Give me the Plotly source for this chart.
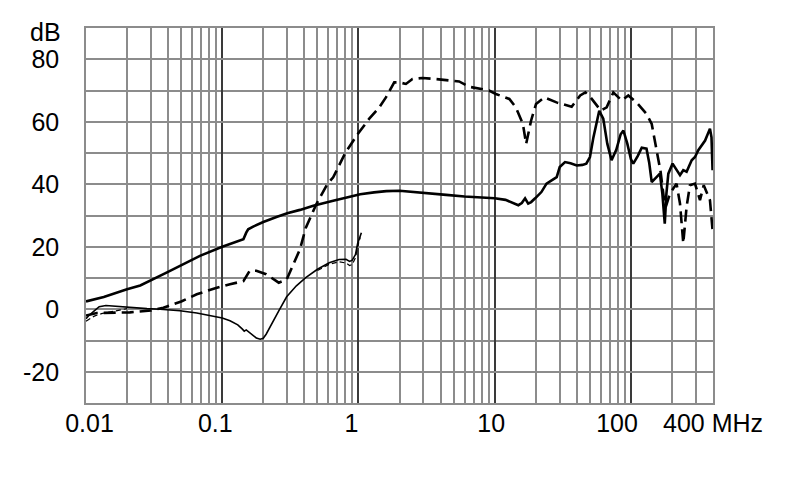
import plotly.graph_objects as go

# ---- data ----
s1_f = [0.01, 0.0135, 0.02, 0.025, 0.039, 0.049, 0.0686, 0.1, 0.12, 0.135, 0.143, 0.15, 0.155, 0.17,
        0.2, 0.25, 0.3, 0.372, 0.466, 0.652, 0.8, 1.03, 1.3, 1.6, 2.0, 2.5, 3.2, 4.4, 6, 7.8, 10, 12,
        13.7, 14.9, 15.8, 16.7, 17.6, 18.5, 19.8, 22, 24, 26.5, 28.5, 30, 32.8, 36, 40, 44, 47, 50,
        53, 58.5, 62.6, 67, 72, 78, 84, 88, 94, 100, 104, 112, 120, 130, 136, 142, 152, 163, 170,
        177, 182, 188, 202, 216, 229, 242, 256, 279, 295, 312, 330, 350, 380, 390, 397]
s1_db = [2.5, 3.9, 6.4, 7.6, 11.7, 13.9, 17.1, 20.0, 21.3, 22.0, 22.4, 24.5, 25.6, 26.5,
         27.9, 29.5, 30.7, 31.8, 33.1, 34.7, 35.7, 36.8, 37.4, 37.8, 37.9, 37.6, 37.2, 36.6, 36.1, 35.8, 35.5, 35.0,
         34.0, 33.3, 34.0, 35.5, 33.8, 34.3, 35.5, 37.5, 40.2, 41.5, 42.3, 45.5, 47.1, 46.7, 46.0, 46.2, 46.6, 48.7,
         55.0, 63.5, 61.0, 53.0, 47.7, 51.0, 56.0, 57.2, 53.0, 48.0, 46.6, 49.0, 51.7, 51.4, 47.0, 40.7, 42.0, 43.4, 37.0,
         27.4, 37.0, 43.4, 46.6, 44.5, 42.9, 44.5, 44.0, 47.7, 48.7, 50.9, 52.4, 54.0, 57.8, 55.0, 44.5]

s2_f = [0.01, 0.0105, 0.0115, 0.0125, 0.014, 0.016, 0.02, 0.028, 0.035, 0.049, 0.065, 0.086, 0.1, 0.114,
        0.13, 0.14, 0.145, 0.15, 0.16, 0.17, 0.178, 0.19, 0.2, 0.21, 0.236, 0.26, 0.297, 0.35, 0.41, 0.5,
        0.61, 0.72, 0.81, 0.86, 0.9, 0.95, 0.985, 1.05]
s2_db = [-3.0, -2.0, -0.5, 0.8, 1.2, 1.0, 0.6, 0.2, 0.0, -0.5, -1.2, -2.1, -2.8, -3.7,
         -5.0, -6.3, -7.0, -6.6, -7.6, -8.5, -9.2, -9.6, -9.3, -8.0, -3.7, -0.5, 4.0, 7.5, 10.1, 12.8,
         14.9, 15.9, 16.0, 15.3, 15.7, 17.5, 21.0, 24.5]

s3_f = [0.01, 0.012, 0.021, 0.03, 0.037, 0.05, 0.065, 0.09, 0.114, 0.143, 0.159, 0.178, 0.21, 0.26, 0.297,
        0.33, 0.372, 0.41, 0.49, 0.59, 0.652, 0.8, 0.985, 1.2, 1.42, 1.59, 1.83, 1.99, 2.23, 2.49, 2.95,
        3.6, 4.38, 5.48, 6.48, 7.67, 9.08, 10.2, 12.8, 14.3, 16.1, 17, 18.5, 20.1, 23.2, 28.4, 36.7, 42.4,
        46.3, 50.5, 60, 66.3, 74.2, 85.5, 95.6, 110, 130, 142, 155, 165, 175, 180, 190, 200, 216, 229, 242,
        256, 271, 295, 321, 342, 363, 380, 397]
s3_db = [-2.0, -1.2, -1.0, -0.4, 0.5, 2.5, 4.8, 6.8, 8.0, 9.0, 12.3, 12.3, 11.2, 8.5, 9.5,
         14.0, 19.2, 26.0, 33.6, 40.0, 42.2, 50.0, 56.0, 61.0, 64.6, 67.8, 72.6, 72.6, 72.1, 73.7, 74.0,
         73.7, 73.3, 72.9, 71.2, 70.7, 70.0, 68.9, 67.3, 64.6, 59.3, 52.9, 60.4, 65.7, 67.8, 66.2, 64.8, 68.4,
         69.4, 67.8, 63.6, 64.6, 69.4, 66.8, 68.4, 66.2, 62.5, 59.3, 50.0, 44.0, 35.0, 32.8, 36.0, 38.0, 40.2, 33.8, 21.1,
         32.8, 39.7, 40.2, 34.9, 39.7, 37.0, 34.9, 25.3]

# thin dashed companion of the thin solid curve (two short visible pieces)
s4_f = [0.01, 0.0115, 0.013, 0.016, 0.02, None, 0.5, 0.61, 0.72, 0.81, 0.86, 0.9, 0.95, 0.985, 1.03]
s4_db = [-3.8, -2.2, -1.4, -0.6, 0.2, None, 12.4, 14.4, 15.2, 14.8, 14.0, 14.3, 16.5, 20.0, 23.0]

x_tick_vals = [0.01, 0.1, 1, 10, 100, 400]
x_tick_text = ["\u00a00.01", "0.1\u00a0\u00a0", "1\u00a0\u00a0", "10\u00a0", "100\u00a0\u00a0\u00a0\u00a0", "400 MHz"]
decades = [0.1, 1, 10, 100]
minor_vals = [m * d for d in [0.01, 0.1, 1, 10] for m in range(2, 10)] + [200, 300]
y_tick_vals = [-20, 0, 20, 40, 60, 80]
y_tick_text = ["-20", "0", "20", "40", "60", "80"]

FONT = "Liberation Sans, Arial, sans-serif"
GRID = "#8c8c8c"

fig = go.Figure()
fig.add_trace(go.Scatter(x=s4_f, y=s4_db, mode="lines", xaxis="x2", connectgaps=False,
                         line=dict(color="black", width=1.2, dash="5px,3px"), showlegend=False))
fig.add_trace(go.Scatter(x=s2_f, y=s2_db, mode="lines",
                         line=dict(color="black", width=1.6), showlegend=False))
fig.add_trace(go.Scatter(x=s3_f, y=s3_db, mode="lines",
                         line=dict(color="black", width=2.6, dash="12px,6px"), showlegend=False))
fig.add_trace(go.Scatter(x=s1_f, y=s1_db, mode="lines",
                         line=dict(color="black", width=2.6), showlegend=False))

xr = [-2, 2.60206]
fig.update_layout(
    width=790, height=499,
    margin=dict(l=86, r=77, t=28, b=96),
    paper_bgcolor="white", plot_bgcolor="white",
    font=dict(family=FONT, size=25, color="black"),
    xaxis=dict(type="log", range=xr, tickvals=decades, showticklabels=False,
               showgrid=True, gridcolor="#3a3a3a", gridwidth=2, ticks="",
               minor=dict(tickvals=minor_vals, showgrid=True, gridcolor=GRID, gridwidth=1.6, ticks=""),
               showline=True, linecolor=GRID, linewidth=1.6, mirror=True, zeroline=False,
               automargin=False),
    xaxis2=dict(type="log", range=xr, overlaying="x", anchor="y", side="bottom",
                tickvals=x_tick_vals, ticktext=x_tick_text, showgrid=False, ticks="",
                tickangle=0, ticklabelstandoff=3, showline=False, zeroline=False,
                automargin=False),
    yaxis=dict(range=[-30, 90], tickvals=y_tick_vals, ticktext=y_tick_text,
               showgrid=True, gridcolor=GRID, gridwidth=1.6,
               minor=dict(dtick=10, tick0=0, showgrid=True, gridcolor=GRID, gridwidth=1.6, ticks=""),
               ticks="", ticklabelstandoff=20, automargin=False,
               showline=True, linecolor=GRID, linewidth=1.6, mirror=True, zeroline=False),
    annotations=[dict(text="dB", xref="paper", yref="paper", x=-0.0367, y=0.99,
                      xanchor="right", yanchor="middle", showarrow=False,
                      font=dict(family=FONT, size=25, color="black"))],
)

fig.write_html("out.html", config={"displayModeBar": False},
               post_script="document.body.style.margin='0';")
